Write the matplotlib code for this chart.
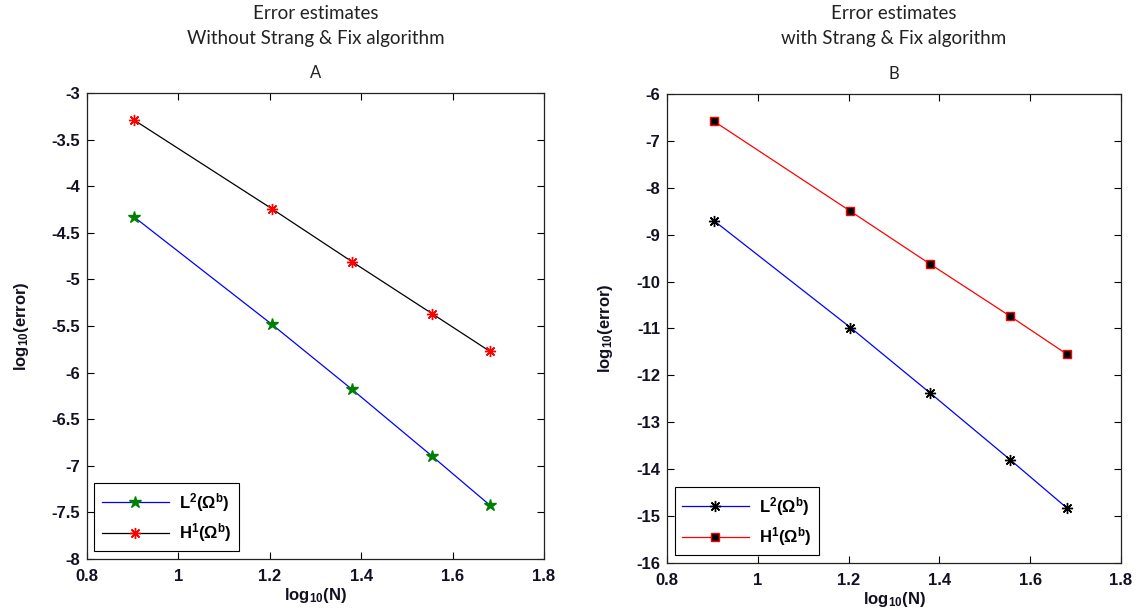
import numpy as np
import matplotlib
matplotlib.use("Agg")
import matplotlib.pyplot as plt

# Data
logN = [0.903, 1.204, 1.380, 1.556, 1.681]
A_L2 = [-4.33, -5.48, -6.18, -6.90, -7.42]
A_H1 = [-3.29, -4.24, -4.81, -5.37, -5.77]
B_L2 = [-8.70, -10.98, -12.38, -13.80, -14.83]
B_H1 = [-6.58, -8.50, -9.63, -10.74, -11.55]

xticks = [0.8, 1, 1.2, 1.4, 1.6, 1.8]
xticklabels = ['0.8', '1', '1.2', '1.4', '1.6', '1.8']
A_yticks = [-3, -3.5, -4, -4.5, -5, -5.5, -6, -6.5, -7, -7.5, -8]
B_yticks = list(range(-6, -17, -1))

titles = ["Error estimates\nWithout Strang & Fix algorithm",
          "Error estimates\nwith Strang & Fix algorithm"]
panel = ["A", "B"]

plt.rcParams['font.family'] = ['Liberation Sans', 'DejaVu Sans']
plt.rcParams['font.weight'] = 'bold'
plt.rcParams['mathtext.fontset'] = 'custom'
plt.rcParams['mathtext.rm'] = 'Liberation Sans:bold'
plt.rcParams['mathtext.bf'] = 'Liberation Sans:bold'
plt.rcParams['mathtext.it'] = 'Liberation Sans:bold'

fig = plt.figure(figsize=(11.41, 6.15), dpi=100)
axA = fig.add_axes([0.0762, 0.0911, 0.4005, 0.7577])
axB = fig.add_axes([0.5846, 0.0846, 0.3979, 0.7626])

ast = (8, 2, 0)
tcol = '#111122'

axA.plot(logN, A_L2, color='blue', lw=0.9, marker='*', ms=9, mfc='green', mec='green',
         label=r'$\mathbf{L^2(\Omega^b)}$')
axA.plot(logN, A_H1, color='black', lw=0.9, marker=ast, ms=8, mec='red', mew=1.0,
         label=r'$\mathbf{H^1(\Omega^b)}$')
axB.plot(logN, B_L2, color='blue', lw=0.9, marker=ast, ms=8, mec='black', mew=1.0,
         label=r'$\mathbf{L^2(\Omega^b)}$')
axB.plot(logN, B_H1, color='red', lw=0.9, marker='s', ms=5.5, mfc='black', mec='red', mew=1.0,
         label=r'$\mathbf{H^1(\Omega^b)}$')

for ax, yt, lim, t, p in [(axA, A_yticks, (-8, -3), titles[0], panel[0]),
                          (axB, B_yticks, (-16, -6), titles[1], panel[1])]:
    ax.set_xlim(0.8, 1.8)
    ax.set_ylim(*lim)
    ax.set_xticks(xticks)
    ax.set_xticklabels(xticklabels)
    ax.set_yticks(yt)
    ax.set_yticklabels([('%g' % v) for v in yt])
    ax.tick_params(axis='both', labelsize=12, labelcolor=tcol)
    ax.tick_params(axis='y', direction='in', right=True, length=5, width=0.8, pad=5)
    ax.tick_params(axis='x', direction='in', top=True, length=5, width=0.8, pad=7)
    for s in ax.spines.values():
        s.set_linewidth(0.9)
        s.set_color('#222222')
    ax.set_xlabel(r'$\mathbf{log_{10}(N)}$', fontsize=12, labelpad=2, color=tcol)
    ax.set_ylabel(r'$\mathbf{log_{10}(error)}$', fontsize=12, labelpad=15, color=tcol)
    ax.set_title(p, fontsize=12, family=['Lato', 'DejaVu Sans'], fontweight='normal',
                 pad=11, color='#222222')
    bb = ax.get_position()
    fig.text((bb.x0 + bb.x1) / 2, 1 - 5 / 615, t, ha='center', va='top',
             fontsize=13.5, family=['Lato', 'DejaVu Sans'], fontweight='normal',
             linespacing=1.6, color='#222222')
    leg = ax.legend(loc='lower left', fontsize=12, fancybox=False, framealpha=1,
                    edgecolor='black', handlelength=4.0, borderaxespad=0.45,
                    handletextpad=0.6, labelspacing=0.45, borderpad=0.45)
    leg.get_frame().set_linewidth(0.8)

fig.savefig('out.png', dpi=100)
